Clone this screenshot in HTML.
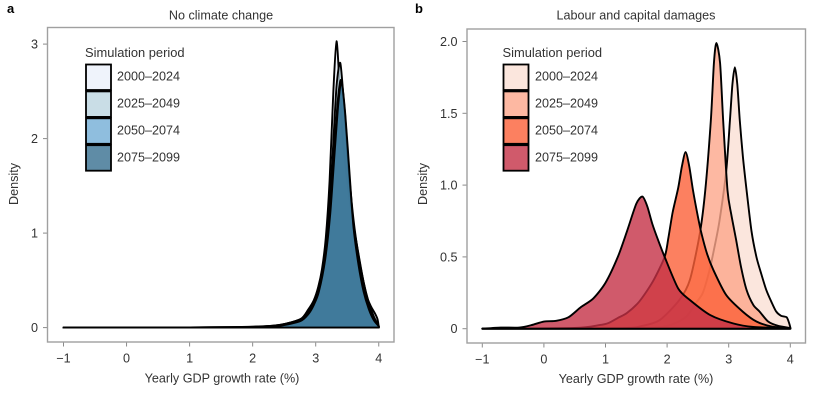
<!DOCTYPE html>
<html lang="en">
<head>
<meta charset="utf-8">
<title>Yearly GDP growth rate density</title>
<style>
html,body{margin:0;padding:0;background:#fff;width:813px;height:400px;overflow:hidden}
svg{display:block;position:absolute;left:0;top:0}
text{font-family:"Liberation Sans",Arial,sans-serif;fill:#333;font-size:12.6px}
.legend-heading{font-size:12.9px}
.frame{fill:none;stroke:#a0a0a0;stroke-width:1.4}
.swatch{fill-opacity:.8;stroke:#000;stroke-width:1.8}
.letter{font-weight:bold;font-size:13px;fill:#000}
</style>
</head>
<body>
<svg id="gdpFigure" width="813" height="400" viewBox="0 0 813 400" xmlns="http://www.w3.org/2000/svg">
  <g id="marksA"></g>
  <g id="marksB"></g>
  <g id="axesA"></g>
  <g id="axesB"></g>

  <rect class="frame" x="47.5" y="27.5" width="346.5" height="314.5"/>
  <rect class="frame" x="467" y="29" width="338.5" height="314"/>

  <text class="letter" x="7" y="13">a</text>
  <text class="letter" x="415" y="13">b</text>
  <text x="221" y="19.5" text-anchor="middle">No climate change</text>
  <text x="636" y="19.5" text-anchor="middle">Labour and capital damages</text>
  <text x="222" y="382.5" text-anchor="middle">Yearly GDP growth rate (%)</text>
  <text x="636" y="383" text-anchor="middle">Yearly GDP growth rate (%)</text>
  <text x="18" y="184" text-anchor="middle" transform="rotate(-90 18 184)">Density</text>
  <text x="427" y="184" text-anchor="middle" transform="rotate(-90 427 184)">Density</text>

  <g>
    <text class="legend-heading" x="85" y="57">Simulation period</text>
    <rect class="swatch" x="86" y="64.5" width="25" height="25.5" fill="#ebf0fa"/>
    <rect class="swatch" x="86" y="91.4" width="25" height="25.5" fill="#bcd4e0"/>
    <rect class="swatch" x="86" y="118.3" width="25" height="25.5" fill="#73aed6"/>
    <rect class="swatch" x="86" y="145.2" width="25" height="25.5" fill="#376f90"/>
    <text x="117" y="80.5">2000–2024</text>
    <text x="117" y="107.5">2025–2049</text>
    <text x="117" y="134.5">2050–2074</text>
    <text x="117" y="161.5">2075–2099</text>
  </g>
  <g>
    <text class="legend-heading" x="502.5" y="57">Simulation period</text>
    <rect class="swatch" x="503.5" y="64.5" width="25" height="25.5" fill="#fae0d4"/>
    <rect class="swatch" x="503.5" y="91.4" width="25" height="25.5" fill="#fca68b"/>
    <rect class="swatch" x="503.5" y="118.3" width="25" height="25.5" fill="#fb6038"/>
    <rect class="swatch" x="503.5" y="145.2" width="25" height="25.5" fill="#c43146"/>
    <text x="535" y="80.5">2000–2024</text>
    <text x="535" y="107.5">2025–2049</text>
    <text x="535" y="134.5">2050–2074</text>
    <text x="535" y="161.5">2075–2099</text>
  </g>
</svg>
<script>
// Tick labels
const gdpXTickValues = [-1, 0, 1, 2, 3, 4];
const densityTicksPanelA = [0, 1, 2, 3];
const densityTicksPanelB = [0, 0.5, 1.0, 1.5, 2.0];

// Panel a: no climate change (growth rate, density)
const a2000x = [-1, 1, 2, 2.44, 2.76, 2.88, 2.97, 3.04, 3.1, 3.16, 3.22, 3.28, 3.33, 3.38, 3.43, 3.5, 3.57, 3.66, 3.74, 3.81, 3.88, 3.94, 3.98, 4];
const a2000y = [0, 0.002, 0.01, 0.03, 0.09, 0.19, 0.29, 0.43, 0.62, 0.95, 1.55, 2.5, 3.03, 2.55, 2.0, 1.55, 1.2, 0.85, 0.55, 0.33, 0.22, 0.15, 0.09, 0.01];
const a2025x = [-1, 1, 2, 2.44, 2.76, 2.88, 2.97, 3.05, 3.13, 3.2, 3.27, 3.33, 3.39, 3.45, 3.52, 3.6, 3.68, 3.76, 3.84, 3.92, 4];
const a2025y = [0, 0.002, 0.008, 0.03, 0.09, 0.18, 0.28, 0.44, 0.72, 1.12, 1.85, 2.55, 2.8, 2.35, 1.7, 1.14, 0.76, 0.48, 0.27, 0.12, 0.015];
const a2050x = [-1, 1, 2, 2.44, 2.76, 2.88, 2.97, 3.05, 3.14, 3.22, 3.29, 3.35, 3.4, 3.46, 3.53, 3.6, 3.68, 3.76, 3.84, 3.92, 4];
const a2050y = [0, 0.002, 0.006, 0.025, 0.08, 0.16, 0.26, 0.41, 0.72, 1.18, 1.85, 2.4, 2.62, 2.3, 1.62, 1.08, 0.7, 0.43, 0.24, 0.1, 0.015];
const a2075x = [-1, 1, 2, 2.44, 2.76, 2.88, 2.97, 3.05, 3.15, 3.23, 3.3, 3.36, 3.41, 3.47, 3.54, 3.6, 3.68, 3.76, 3.84, 3.92, 4];
const a2075y = [0, 0.002, 0.005, 0.02, 0.07, 0.14, 0.24, 0.38, 0.72, 1.2, 1.85, 2.38, 2.6, 2.25, 1.6, 1.06, 0.66, 0.38, 0.2, 0.08, 0.015];

// Panel b: labour and capital damages (growth rate, density)
const b2000x = [-1, 1.5, 2.0, 2.3, 2.47, 2.58, 2.69, 2.77, 2.85, 2.96, 3.02, 3.06, 3.1, 3.14, 3.18, 3.23, 3.29, 3.37, 3.45, 3.53, 3.61, 3.69, 3.77, 3.85, 3.94, 3.98, 4];
const b2000y = [0, 0.003, 0.02, 0.08, 0.18, 0.25, 0.41, 0.57, 0.75, 1.1, 1.45, 1.7, 1.82, 1.7, 1.45, 1.2, 0.965, 0.68, 0.5, 0.38, 0.27, 0.19, 0.12, 0.09, 0.08, 0.04, 0.01];
const b2025x = [-1, 1.2, 1.6, 1.88, 2.2, 2.37, 2.53, 2.62, 2.71, 2.76, 2.8, 2.86, 2.91, 2.98, 3.04, 3.12, 3.2, 3.29, 3.4, 3.5, 3.64, 3.8, 4];
const b2025y = [0, 0.003, 0.02, 0.06, 0.2, 0.34, 0.66, 0.965, 1.45, 1.85, 1.99, 1.85, 1.45, 0.965, 0.8, 0.62, 0.43, 0.27, 0.165, 0.12, 0.05, 0.02, 0.005];
const b2050x = [-1, 0.5, 0.9, 1.05, 1.2, 1.35, 1.55, 1.77, 1.96, 2.02, 2.09, 2.18, 2.24, 2.3, 2.36, 2.42, 2.5, 2.56, 2.65, 2.75, 2.96, 3.23, 3.45, 3.7, 4];
const b2050y = [0, 0.005, 0.025, 0.04, 0.075, 0.11, 0.19, 0.33, 0.5, 0.63, 0.81, 0.98, 1.13, 1.23, 1.13, 0.965, 0.78, 0.66, 0.52, 0.41, 0.234, 0.118, 0.05, 0.015, 0.003];
const b2075x = [-1, -0.7, -0.4, -0.2, 0, 0.2, 0.4, 0.6, 0.8, 1.0, 1.2, 1.35, 1.5, 1.6, 1.68, 1.76, 1.86, 1.96, 2.18, 2.37, 2.7, 3.07, 3.4, 4];
const b2075y = [0, 0.008, 0.008, 0.025, 0.05, 0.055, 0.08, 0.15, 0.21, 0.32, 0.5, 0.68, 0.87, 0.92, 0.85, 0.73, 0.61, 0.5, 0.28, 0.2, 0.095, 0.037, 0.012, 0.002];

(function () {
  var SVG_URI = 'http://www.w3.org/2000/svg';
  var periodYears = ['2000', '2025', '2050', '2075'];

  function curvePath(pts) {
    var d = 'M' + pts[0][0].toFixed(2) + ',' + pts[0][1].toFixed(2);
    var k = 0.13;
    for (var i = 0; i < pts.length - 1; i++) {
      var p0 = pts[Math.max(i - 1, 0)], p1 = pts[i], p2 = pts[i + 1], p3 = pts[Math.min(i + 2, pts.length - 1)];
      var c1x = p1[0] + (p2[0] - p0[0]) * k, c1y = p1[1] + (p2[1] - p0[1]) * k;
      var c2x = p2[0] - (p3[0] - p1[0]) * k, c2y = p2[1] - (p3[1] - p1[1]) * k;
      d += 'C' + c1x.toFixed(2) + ',' + c1y.toFixed(2) + ' ' + c2x.toFixed(2) + ',' + c2y.toFixed(2) + ' ' + p2[0].toFixed(2) + ',' + p2[1].toFixed(2);
    }
    return d;
  }

  function drawPanel(cfg) {
    var marks = document.getElementById(cfg.marksId);
    var axes = document.getElementById(cfg.axesId);
    var sx = function (v) { return cfg.x0 + (v + 1) * cfg.xUnit; };
    var sy = function (v) { return cfg.y0 - v * cfg.yUnit; };

    cfg.series.forEach(function (s, i) {
      var pts = s[0].map(function (x, j) { return [sx(x), sy(s[1][j])]; });
      var d = curvePath(pts) + 'L' + sx(4).toFixed(2) + ',' + sy(0).toFixed(2) + 'L' + sx(-1).toFixed(2) + ',' + sy(0).toFixed(2) + 'Z';
      var area = document.createElementNS(SVG_URI, 'path');
      area.setAttribute('d', d);
      area.setAttribute('fill', cfg.fills[i]);
      area.setAttribute('fill-opacity', '0.8');
      area.setAttribute('stroke', '#000');
      area.setAttribute('stroke-width', '1.9');
      area.setAttribute('stroke-linejoin', 'round');
      
      
      marks.appendChild(area);
    });

    gdpXTickValues.forEach(function (t) {
      var tick = document.createElementNS(SVG_URI, 'line');
      tick.setAttribute('x1', sx(t));
      tick.setAttribute('x2', sx(t));
      tick.setAttribute('y1', cfg.bottom);
      tick.setAttribute('y2', cfg.bottom + 4.5);
      tick.setAttribute('stroke', '#8a8a8a');
      
      
      axes.appendChild(tick);
      var txt = document.createElementNS(SVG_URI, 'text');
      txt.setAttribute('x', sx(t));
      txt.setAttribute('y', cfg.bottom + 20.5);
      txt.setAttribute('text-anchor', 'middle');
      
      
      txt.textContent = String(t).replace('-', '\u2212');
      axes.appendChild(txt);
    });

    cfg.yTicks.forEach(function (t) {
      var tick = document.createElementNS(SVG_URI, 'line');
      tick.setAttribute('x1', cfg.left - 4.5);
      tick.setAttribute('x2', cfg.left);
      tick.setAttribute('y1', sy(t));
      tick.setAttribute('y2', sy(t));
      tick.setAttribute('stroke', '#8a8a8a');
      
      
      axes.appendChild(tick);
      var txt = document.createElementNS(SVG_URI, 'text');
      txt.setAttribute('x', cfg.left - 9.5);
      txt.setAttribute('y', sy(t) + 4.5);
      txt.setAttribute('text-anchor', 'end');
      
      
      txt.textContent = cfg.format(t);
      axes.appendChild(txt);
    });
  }

  drawPanel({
    prefix: 'panel-a', marksId: 'marksA', axesId: 'axesA',
    x0: 63.5, xUnit: 63.05, y0: 327.6, yUnit: 94.5, left: 47.5, bottom: 342,
    yTicks: densityTicksPanelA,
    format: function (t) { return String(t); },
    series: [[a2000x, a2000y], [a2025x, a2025y], [a2050x, a2050y], [a2075x, a2075y]],
    fills: ['#ebf0fa', '#bcd4e0', '#73aed6', '#2f6a8b']
  });
  drawPanel({
    prefix: 'panel-b', marksId: 'marksB', axesId: 'axesB',
    x0: 482.3, xUnit: 61.6, y0: 328.7, yUnit: 143.6, left: 467, bottom: 343,
    yTicks: densityTicksPanelB,
    format: function (t) { return t === 0 ? '0' : t.toFixed(1); },
    series: [[b2000x, b2000y], [b2025x, b2025y], [b2050x, b2050y], [b2075x, b2075y]],
    fills: ['#fae0d4', '#fca68b', '#fb6038', '#c43146']
  });
})();
</script>
</body>
</html>
